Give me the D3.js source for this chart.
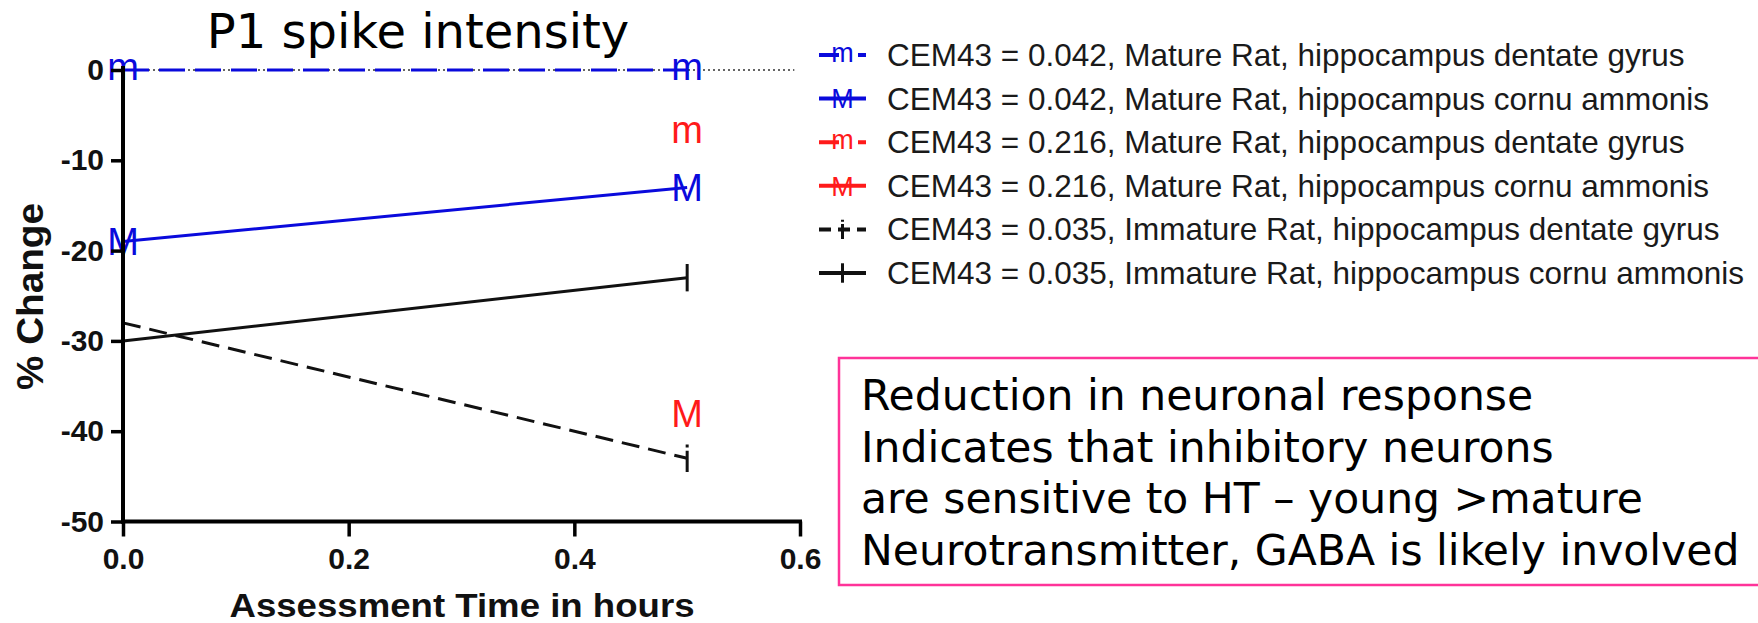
<!DOCTYPE html>
<html>
<head>
<meta charset="utf-8">
<script src="https://cdn.jsdelivr.net/npm/d3@7"></script>
<style>
  html, body { margin: 0; padding: 0; background: #fff; }
  svg { display: block; }
</style>
</head>
<body>
<svg id="chart" width="1758" height="623"></svg>
<script>
// Assessment times (hours)
const times = [0, 0.5];

// % change in P1 spike intensity per group
const blueDentate  = [0, 0];
const blueCornu    = [-19, -13];
const redDentate   = [null, -7];
const redCornu     = [null, -38];
const blackDentate = [-28, -43];
const blackCornu   = [-30, -23];

const legendLabels = [
  "CEM43 = 0.042, Mature Rat, hippocampus dentate gyrus",
  "CEM43 = 0.042, Mature Rat, hippocampus cornu ammonis",
  "CEM43 = 0.216, Mature Rat, hippocampus dentate gyrus",
  "CEM43 = 0.216, Mature Rat, hippocampus cornu ammonis",
  "CEM43 = 0.035, Immature Rat, hippocampus dentate gyrus",
  "CEM43 = 0.035, Immature Rat, hippocampus cornu ammonis"
];

const xTicks = [0, 0.2, 0.4, 0.6];
const yTicks = [0, -10, -20, -30, -40, -50];

const chartTitle = "P1 spike intensity";
const xTitle = "Assessment Time in hours";
const yTitle = "% Change";

const noteLines = [
  "Reduction in neuronal response",
  "Indicates that inhibitory neurons",
  "are sensitive to HT \u2013 young >mature",
  "Neurotransmitter, GABA is likely involved"
];

// Series styling
const BLUE = "#0a0adc", RED = "#ff1a1a", BLACK = "#111";
const series = [
  { values: blueDentate,  color: BLUE,  dash: "26,10", marker: "m" },
  { values: blueCornu,    color: BLUE,  dash: null,    marker: "M" },
  { values: redDentate,   color: RED,   dash: "26,10", marker: "m" },
  { values: redCornu,     color: RED,   dash: null,    marker: "M" },
  { values: blackDentate, color: BLACK, dash: "18,9",  marker: "i" },
  { values: blackCornu,   color: BLACK, dash: null,    marker: "+" }
];

const svg = d3.select("#chart");
svg.append("rect").attr("width", 1758).attr("height", 623).attr("fill", "#fff");

const x = d3.scaleLinear().domain([0, 0.6]).range([123, 800]);
const y = d3.scaleLinear().domain([-50, 0]).range([521.5, 70]);

// Title
svg.append("text")
  .attr("x", 418).attr("y", 48)
  .attr("text-anchor", "middle")
  .attr("font-family", "'DejaVu Sans', Verdana, sans-serif")
  .attr("font-size", 48)
  .attr("fill", "#000")
  .text(chartTitle);

// Dotted zero reference
svg.append("line")
  .attr("x1", x(0)).attr("x2", x(0.595))
  .attr("y1", y(0)).attr("y2", y(0))
  .attr("stroke", "#333").attr("stroke-width", 1.6)
  .attr("stroke-dasharray", "2,3");

const plot = svg.append("g");

// Connecting lines
const line = d3.line()
  .defined(d => d.v !== null)
  .x(d => x(d.t))
  .y(d => y(d.v));

series.forEach(s => {
  const pts = times.map((t, i) => ({ t, v: s.values[i] }));
  plot.append("path")
    .datum(pts)
    .attr("fill", "none")
    .attr("stroke", s.color)
    .attr("stroke-width", 3)
    .attr("stroke-dasharray", s.dash)
    .attr("d", line);
});

// Point markers
function drawMarker(g, type, cx, cy, color, size) {
  if (type === "m" || type === "M") {
    const shift = type === "m" ? 0.26 * size : 0.36 * size;
    g.append("text")
      .attr("x", cx).attr("y", cy + shift)
      .attr("text-anchor", "middle")
      .attr("font-family", "'Liberation Sans', Arial, sans-serif")
      .attr("font-size", size)
      .attr("fill", color)
      .text(type);
  } else if (type === "+") {
    const h = size * 0.36;
    g.append("line")
      .attr("x1", cx).attr("x2", cx)
      .attr("y1", cy - h).attr("y2", cy + h)
      .attr("stroke", color).attr("stroke-width", 3);
  } else if (type === "i") {
    const h = size * 0.36;
    g.append("line")
      .attr("x1", cx).attr("x2", cx)
      .attr("y1", cy - h).attr("y2", cy + h)
      .attr("stroke", color).attr("stroke-width", 3)
      .attr("stroke-dasharray", `${h * 0.22},${h * 0.22},${h * 2}`);
  }
}

series.forEach(s => {
  times.forEach((t, i) => {
    const v = s.values[i];
    if (v === null) return;
    drawMarker(plot, s.marker, x(t), y(v), s.color, 38);
  });
});

// Axes (plain hyphen for negative numbers)
const yAxis = d3.axisLeft(y).tickValues(yTicks).tickSize(12).tickPadding(7)
  .tickFormat(d => String(d));
const xAxis = d3.axisBottom(x).tickValues(xTicks).tickSize(15).tickPadding(11)
  .tickFormat(d => d.toFixed(1));

const gy = svg.append("g").attr("transform", `translate(${x(0)},0)`).call(yAxis);
const gx = svg.append("g").attr("transform", `translate(0,${y(-50)})`).call(xAxis);

[gx, gy].forEach(g => {
  g.select(".domain").attr("stroke", "#000").attr("stroke-width", 4);
  g.selectAll(".tick line").attr("stroke", "#000").attr("stroke-width", 3.5);
  g.selectAll(".tick text")
    .attr("fill", "#111")
    .attr("font-family", "'Liberation Sans', Arial, sans-serif")
    .attr("font-weight", "bold")
    .attr("font-size", 30);
});
// Axis spines without outer ticks
gy.select(".domain").attr("d", `M0,${y(0) - 4}V${y(-50) + 2}`);
gx.select(".domain").attr("d", `M${x(0) - 2},0H${x(0.6) + 2}`);
gx.selectAll(".tick text").attr("dy", "0.71em");

// Axis titles
svg.append("text")
  .attr("x", 462).attr("y", 617)
  .attr("text-anchor", "middle")
  .attr("font-family", "'Liberation Sans', Arial, sans-serif")
  .attr("font-weight", "bold")
  .attr("font-size", 34)
  .attr("textLength", 465).attr("lengthAdjust", "spacingAndGlyphs")
  .attr("fill", "#111")
  .text(xTitle);

svg.append("text")
  .attr("transform", "translate(43,296.5) rotate(-90)")
  .attr("text-anchor", "middle")
  .attr("font-family", "'Liberation Sans', Arial, sans-serif")
  .attr("font-weight", "bold")
  .attr("font-size", 36)
  .attr("textLength", 187).attr("lengthAdjust", "spacingAndGlyphs")
  .attr("fill", "#111")
  .text(yTitle);

// Legend
const legend = svg.append("g");
const rowY = d3.scalePoint().domain(d3.range(series.length)).range([55, 273]);
series.forEach((s, i) => {
  const cy = rowY(i);
  const row = legend.append("g");
  let dash = null;
  if (s.marker === "m") dash = "20,19,8";
  if (s.marker === "i") dash = "12,7";
  row.append("line")
    .attr("x1", 819).attr("x2", 866)
    .attr("y1", cy).attr("y2", cy)
    .attr("stroke", s.color).attr("stroke-width", 4)
    .attr("stroke-dasharray", dash);
  drawMarker(row, s.marker, 842.5, cy, s.color, 27);
  row.append("text")
    .attr("x", 887).attr("y", cy + 11)
    .attr("font-family", "'Liberation Sans', Arial, sans-serif")
    .attr("font-size", 31.5)
    .attr("fill", "#1a1a1a")
    .text(legendLabels[i]);
});

// Annotation box
const note = svg.append("g");
note.append("rect")
  .attr("x", 839).attr("y", 358)
  .attr("width", 960).attr("height", 227)
  .attr("fill", "#fff")
  .attr("stroke", "#ff3399").attr("stroke-width", 2.5);
note.selectAll("text.note")
  .data(noteLines)
  .join("text")
  .attr("class", "note")
  .attr("x", 861)
  .attr("y", (d, i) => 410 + i * 51.7)
  .attr("font-family", "'DejaVu Sans', Verdana, sans-serif")
  .attr("font-size", 42.5)
  .attr("fill", "#000")
  .text(d => d);
</script>
</body>
</html>
